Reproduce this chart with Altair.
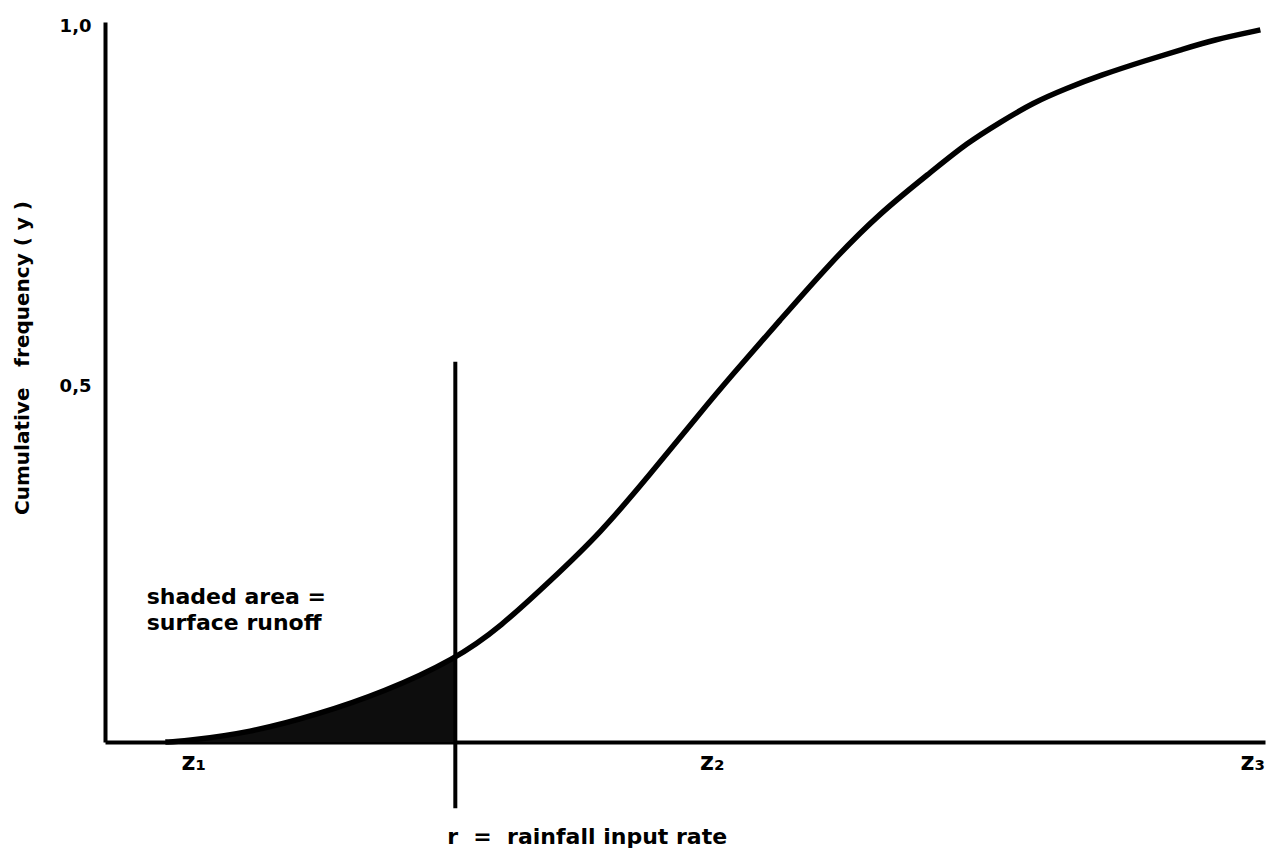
import altair as alt
import pandas as pd

# Curve (x in arbitrary rainfall-rate units, y = cumulative frequency)
curve_x = [0.52, 0.67, 1.25, 1.83, 2.40, 3.02, 3.41, 3.84, 4.27, 4.70, 5.13, 5.39,
           5.82, 6.25, 6.68, 7.14, 7.43, 7.72, 8.00, 8.29, 8.58, 8.98, 9.27, 9.55, 9.96]
curve_y = [0.000, 0.001, 0.013, 0.038, 0.069, 0.115, 0.160, 0.224, 0.290, 0.372, 0.457, 0.507,
           0.586, 0.665, 0.735, 0.794, 0.832, 0.861, 0.888, 0.908, 0.926, 0.947, 0.961, 0.975, 0.989]

r_value = 3.02          # rainfall input rate (vertical line)
r_top = 0.528
r_bottom = -0.092

z_positions = [0.76, 5.23, 9.89]
z_labels = ["z\u2081", "z\u2082", "z\u2083"]
y_ticks = [0.5, 1.0]

df = pd.DataFrame({"x": curve_x, "y": curve_y})
shade = df[df["x"] <= r_value + 1e-9]

FONT = "DejaVu Sans"
NB = "\u00a0"

xs = alt.Scale(domain=[0, 10], nice=False, zero=False)
ys = alt.Scale(domain=[0, 1], nice=False, zero=False)

label_expr = ("datum.value < 2 ? '" + z_labels[0] + "' : (datum.value < 7 ? '" +
              z_labels[1] + "' : '" + z_labels[2] + "')")

x_axis = alt.Axis(values=z_positions, labelExpr=label_expr, ticks=False, grid=False,
                  domainColor="black", domainWidth=4, labelFont=FONT, labelFontSize=24,
                  labelFontWeight="bold", labelColor="black", labelPadding=8,
                  labelOverlap=False, labelBound=False, labelFlush=False, title=None)
y_axis = alt.Axis(values=y_ticks, labelExpr="replace(format(datum.value, '.1f'), '.', ',')",
                  ticks=False, grid=False, domainColor="black", domainWidth=4,
                  labelFont=FONT, labelFontSize=18, labelFontWeight="bold",
                  labelColor="black", labelPadding=14, labelBaseline="middle",
                  labelOffset=4, title=None)

area = alt.Chart(shade).mark_area(color="#0d0d0d", interpolate="basis").encode(
    x=alt.X("x:Q", scale=xs, axis=x_axis),
    y=alt.Y("y:Q", scale=ys, axis=y_axis),
)

line = alt.Chart(df).mark_line(color="black", strokeWidth=5.5, interpolate="basis").encode(
    x=alt.X("x:Q", scale=xs),
    y=alt.Y("y:Q", scale=ys),
)

rule_df = pd.DataFrame({"x": [r_value], "y": [r_top], "y2": [r_bottom]})
rule = alt.Chart(rule_df).mark_rule(color="black", strokeWidth=4, clip=False).encode(
    x=alt.X("x:Q", scale=xs),
    y=alt.Y("y:Q", scale=ys),
    y2="y2:Q",
)

ann_df = pd.DataFrame({
    "x": [0.36, 2.95],
    "y": [0.201, -0.132],
    "t": ["shaded area =\nsurface runoff",
          "r" + NB * 2 + "=" + NB * 2 + "rainfall input rate"],
})
ann = alt.Chart(ann_df).mark_text(align="left", baseline="middle", font=FONT, fontSize=22,
                                  fontWeight="bold", color="black", lineBreak="\n",
                                  lineHeight=26, clip=False).encode(
    x=alt.X("x:Q", scale=xs),
    y=alt.Y("y:Q", scale=ys),
    text="t:N",
)

ytitle_text = "Cumulative" + NB * 3 + "frequency" + NB + "(" + NB + "y" + NB + ")"
ytitle = alt.Chart(pd.DataFrame({"t": [ytitle_text]})).mark_text(
    angle=270, align="center", baseline="middle", font=FONT, fontSize=20,
    fontWeight="bold", color="black").encode(
    x=alt.value(-82), y=alt.value(336), text="t:N")

chart = alt.layer(area, line, rule, ann, ytitle).properties(
    width=1160, height=720,
    autosize=alt.AutoSizeParams(type="none"),
    padding={"left": 105, "top": 22, "right": 7, "bottom": 112},
    background="white",
).configure_view(stroke=None)

chart.save("out.html", embed_options={"renderer": "svg", "actions": False})
